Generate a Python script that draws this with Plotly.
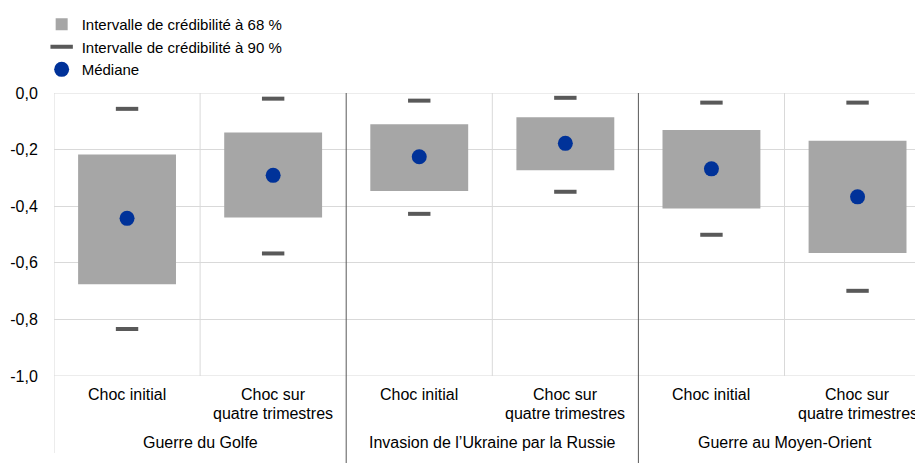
import plotly.graph_objects as go

# data
cat_line1 = ["Choc initial", "Choc sur"] * 3
cat_line2 = ["", "quatre trimestres"] * 3
groups = ["Guerre du Golfe", "Invasion de l’Ukraine par la Russie", "Guerre au Moyen-Orient"]
median = [-0.443, -0.291, -0.225, -0.178, -0.268, -0.367]
ci68_low = [-0.676, -0.440, -0.346, -0.273, -0.408, -0.565]
ci68_high = [-0.217, -0.140, -0.110, -0.086, -0.131, -0.169]
ci90_low = [-0.834, -0.567, -0.427, -0.349, -0.501, -0.699]
ci90_high = [-0.056, -0.020, -0.027, -0.017, -0.034, -0.034]
yticks = [0.0, -0.2, -0.4, -0.6, -0.8, -1.0]
yticktext = ["0,0", "-0,2", "-0,4", "-0,6", "-0,8", "-1,0"]

FONT = "Liberation Sans, Arial, sans-serif"
GRID = "#d9d9d9"
DARK = "#595959"

xs = list(range(len(cat_line1)))

fig = go.Figure()
fig.add_trace(go.Bar(
    x=xs, y=[h - l for h, l in zip(ci68_high, ci68_low)], base=ci68_low,
    width=0.67, marker=dict(color="#a6a6a6", line=dict(width=0)),
    name="Intervalle de crédibilité à 68 %",
))
fig.add_trace(go.Scatter(
    x=xs + xs, y=ci90_low + ci90_high, mode="markers",
    marker=dict(symbol="line-ew", size=16, line=dict(width=4, color=DARK)),
    name="Intervalle de crédibilité à 90 %",
))
fig.add_trace(go.Scatter(
    x=xs, y=median, mode="markers",
    marker=dict(symbol="circle", size=15, color="#003299"),
    name="Médiane",
))

shapes = []
# top and bottom horizontal lines
for yv in (0.0, -1.0):
    shapes.append(dict(type="line", xref="x", yref="y", x0=-0.5, x1=6, y0=yv, y1=yv,
                       line=dict(color=GRID, width=1), layer="below"))
# light separators inside groups
for xv in (0.5, 2.5, 4.5):
    shapes.append(dict(type="line", xref="x", yref="y", x0=xv, x1=xv, y0=0, y1=-1,
                       line=dict(color=GRID, width=1), layer="below"))
# left axis line
shapes.append(dict(type="line", xref="x", yref="paper", x0=-0.5, x1=-0.5, y0=1, y1=-0.272,
                   line=dict(color=GRID, width=1)))
# dark separators between groups
for xv in (1.5, 3.5):
    shapes.append(dict(type="line", xref="x", yref="paper", x0=xv, x1=xv, y0=1, y1=-0.32,
                       line=dict(color=DARK, width=1)))

annotations = []
for i, (a, b) in enumerate(zip(cat_line1, cat_line2)):
    annotations.append(dict(x=i, y=-0.067, xref="x", yref="paper", text=a, showarrow=False,
                            yanchor="middle", xanchor="center", font=dict(size=16, color="#000")))
    if b:
        annotations.append(dict(x=i, y=-0.132, xref="x", yref="paper", text=b, showarrow=False,
                                yanchor="middle", xanchor="center", font=dict(size=16, color="#000")))
for g, name in enumerate(groups):
    annotations.append(dict(x=2 * g + 0.5, y=-0.236, xref="x", yref="paper", text=name,
                            showarrow=False, yanchor="middle", xanchor="center",
                            font=dict(size=16, color="#000")))

fig.update_layout(
    width=915, height=455,
    margin=dict(l=46, r=0, t=85, b=87),
    paper_bgcolor="white", plot_bgcolor="white",
    font=dict(family=FONT, size=16, color="#000"),
    showlegend=True,
    legend=dict(x=-0.0142, y=1.30, xanchor="left", yanchor="top",
                bgcolor="rgba(0,0,0,0)", font=dict(size=15), traceorder="normal"),
    xaxis=dict(range=[-0.5, 5.448], showgrid=False, zeroline=False, showticklabels=False,
               showline=False, fixedrange=True),
    yaxis=dict(range=[-1.0, 0.0], tickvals=yticks, ticktext=yticktext, showgrid=True,
               gridcolor=GRID, zeroline=False, showline=False, ticks="outside",
               ticklen=12, tickcolor="rgba(0,0,0,0)", tickfont=dict(size=16)),
    shapes=shapes, annotations=annotations,
)

fig.write_html("out.html")
